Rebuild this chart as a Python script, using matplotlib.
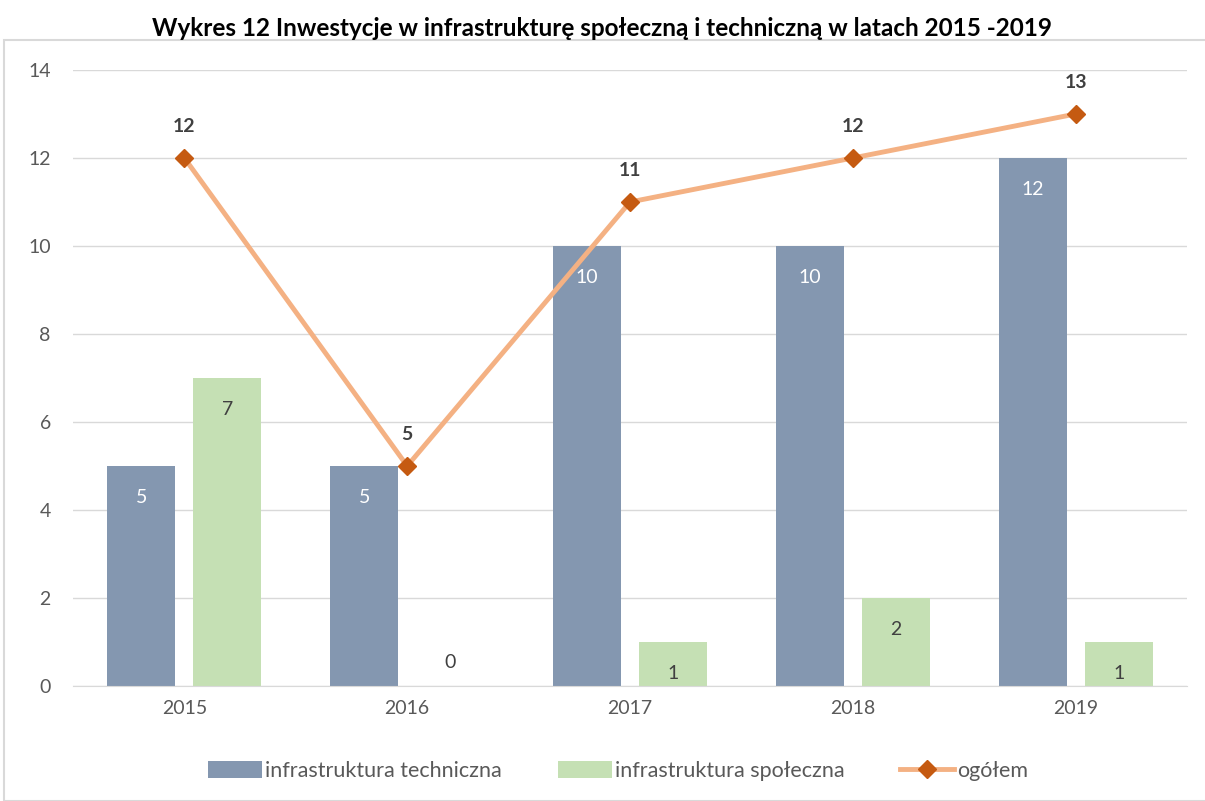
import matplotlib
matplotlib.use("Agg")
import matplotlib.pyplot as plt
from matplotlib.patches import Rectangle
import numpy as np

plt.rcParams['font.family'] = ['Lato', 'DejaVu Sans']

years = ['2015', '2016', '2017', '2018', '2019']
techniczna = [5, 5, 10, 10, 12]
spoleczna = [7, 0, 1, 2, 1]
ogolem = [12, 5, 11, 12, 13]

c_blue = '#8497B0'
c_green = '#C5E0B4'
c_line = '#F4B183'
c_mark = '#C55A11'
c_text = '#595959'

fig = plt.figure(figsize=(12.05, 8.01), dpi=100)
fig.patches.append(Rectangle((4/1205, 0), 1.0, 1 - 40/801, transform=fig.transFigure,
                             fill=False, edgecolor='#D9D9D9', linewidth=1.5))
ax = fig.add_axes([73/1205, 1 - 686/801, (1187-73)/1205, (686-70)/801])

x = np.arange(len(years))
w = 0.306
off = 0.193
b1 = ax.bar(x - off, techniczna, w, color=c_blue, zorder=2, label='infrastruktura techniczna')
b2 = ax.bar(x + off, spoleczna, w, color=c_green, zorder=2, label='infrastruktura społeczna')
ln, = ax.plot(x, ogolem, color=c_line, lw=3.5, marker='D', markersize=9.5,
              markerfacecolor=c_mark, markeredgecolor=c_mark, zorder=3, label='ogółem')

for xi, v in zip(x, techniczna):
    ax.annotate(str(v), (xi - off, v), xytext=(0, -23), textcoords='offset points',
                ha='center', va='center', color='white', fontsize=14)
for xi, v in zip(x, spoleczna):
    dy = -23 if v > 0 else 17
    ax.annotate(str(v), (xi + off, v), xytext=(0, dy), textcoords='offset points',
                ha='center', va='center', color='#404040', fontsize=14)
for xi, v in zip(x, ogolem):
    ax.annotate(str(v), (xi, v), xytext=(0, 23), textcoords='offset points',
                ha='center', va='center', color='#404040', fontsize=14, fontweight='bold')

ax.set_xlim(-0.5, len(years) - 0.5)
ax.set_ylim(0, 14)
ax.set_yticks(range(0, 15, 2))
ax.set_xticks(x)
ax.set_xticklabels(years)
ax.tick_params(axis='both', length=0, labelsize=14, labelcolor=c_text, pad=10)
ax.tick_params(axis='y', pad=16)
ax.grid(axis='y', color='#D9D9D9', lw=1, zorder=0)
for s in ['top', 'right', 'left']:
    ax.spines[s].set_visible(False)
ax.spines['bottom'].set_color('#D9D9D9')

fig.text(0.5, 1 - 28/801, 'Wykres 12 Inwestycje w infrastrukturę społeczną i techniczną w latach 2015 -2019',
         ha='center', va='center', fontsize=17.5, fontweight='bold', color='black')

leg = fig.legend(handles=[b1, b2, ln], loc='center', bbox_to_anchor=(0.513, 1 - 771/801), ncol=3,
                 frameon=False, fontsize=15.5, labelcolor=c_text, handlelength=2.5,
                 handleheight=0.8, columnspacing=2.6, handletextpad=0.15)

fig.savefig('out.png', dpi=100)
